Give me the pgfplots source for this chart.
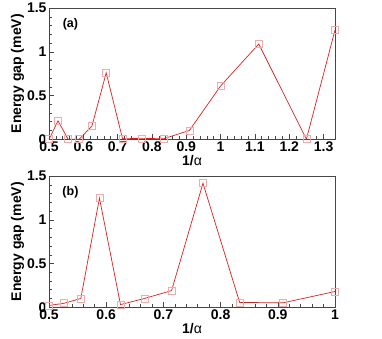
\documentclass[border=0pt]{standalone}
\usepackage{fontspec}
\setmainfont{Liberation Sans}
\usepackage{pgfplots}
\pgfplotsset{compat=1.18}
\definecolor{lred}{RGB}{225,30,30}
\definecolor{lpink}{RGB}{245,170,170}
\definecolor{axgray}{RGB}{70,70,70}
\begin{document}
\begin{tikzpicture}
\path (0pt,0pt) rectangle (382pt,338pt);
\pgfplotsset{
  every axis/.append style={
    scale only axis, width=286pt, height=131pt,
    axis line style={axgray, line width=0.9pt},
    tick style={axgray, line width=0.6pt},
    tick pos=left, tick align=inside,
    major tick length=5pt, minor tick length=3pt,
    minor y tick num=4, minor x tick num=4,
    ymin=0, ymax=1.5, ytick={0,0.5,1,1.5},
    /pgf/number format/assume math mode=true,
    ticklabel style={font=\fontsize{14}{16}\selectfont\bfseries},
    label style={font=\fontsize{14}{16}\selectfont\bfseries},
    ylabel={Energy gap (meV)},
    xlabel={1/{\mdseries α}},
    xlabel style={yshift=3pt},
    ylabel style={yshift=-4pt},
    xticklabel style={yshift=1pt},
    yticklabel style={xshift=1pt},
    clip=false,
  }
}
\begin{axis}[at={(49pt,199pt)}, anchor=south west,
  xmin=0.5, xmax=1.3333,
  xtick={0.5,0.6,0.7,0.8,0.9,1,1.1,1.2,1.3}]
\addplot[lred, line width=0.7pt, mark=square, mark size=3.5pt, mark options={lpink, line width=0.6pt}] coordinates {
(0.5,0) (0.5263,0.21) (0.5556,0) (0.5882,0) (0.625,0.15) (0.6667,0.76)
(0.7143,0.005) (0.7692,0.01) (0.8333,0.005) (0.9091,0.10) (1.0,0.61)
(1.1111,1.09) (1.25,0) (1.3333,1.25)};
\node[font=\fontsize{12.5}{14}\selectfont\bfseries] at (axis description cs:0.075,0.88) {(a)};
\end{axis}
\begin{axis}[at={(49pt,31pt)}, anchor=south west,
  xmin=0.5, xmax=1,
  xtick={0.5,0.6,0.7,0.8,0.9,1}]
\addplot[lred, line width=0.7pt, mark=square, mark size=3.5pt, mark options={lpink, line width=0.6pt}] coordinates {
(0.5,0.02) (0.5263,0.045) (0.5556,0.10) (0.5882,1.25) (0.625,0.03) (0.6667,0.10)
(0.7143,0.19) (0.7692,1.42) (0.8333,0.055) (0.9091,0.05) (1.0,0.18)};
\node[font=\fontsize{12.5}{14}\selectfont\bfseries] at (axis description cs:0.075,0.88) {(b)};
\end{axis}
\end{tikzpicture}
\end{document}
